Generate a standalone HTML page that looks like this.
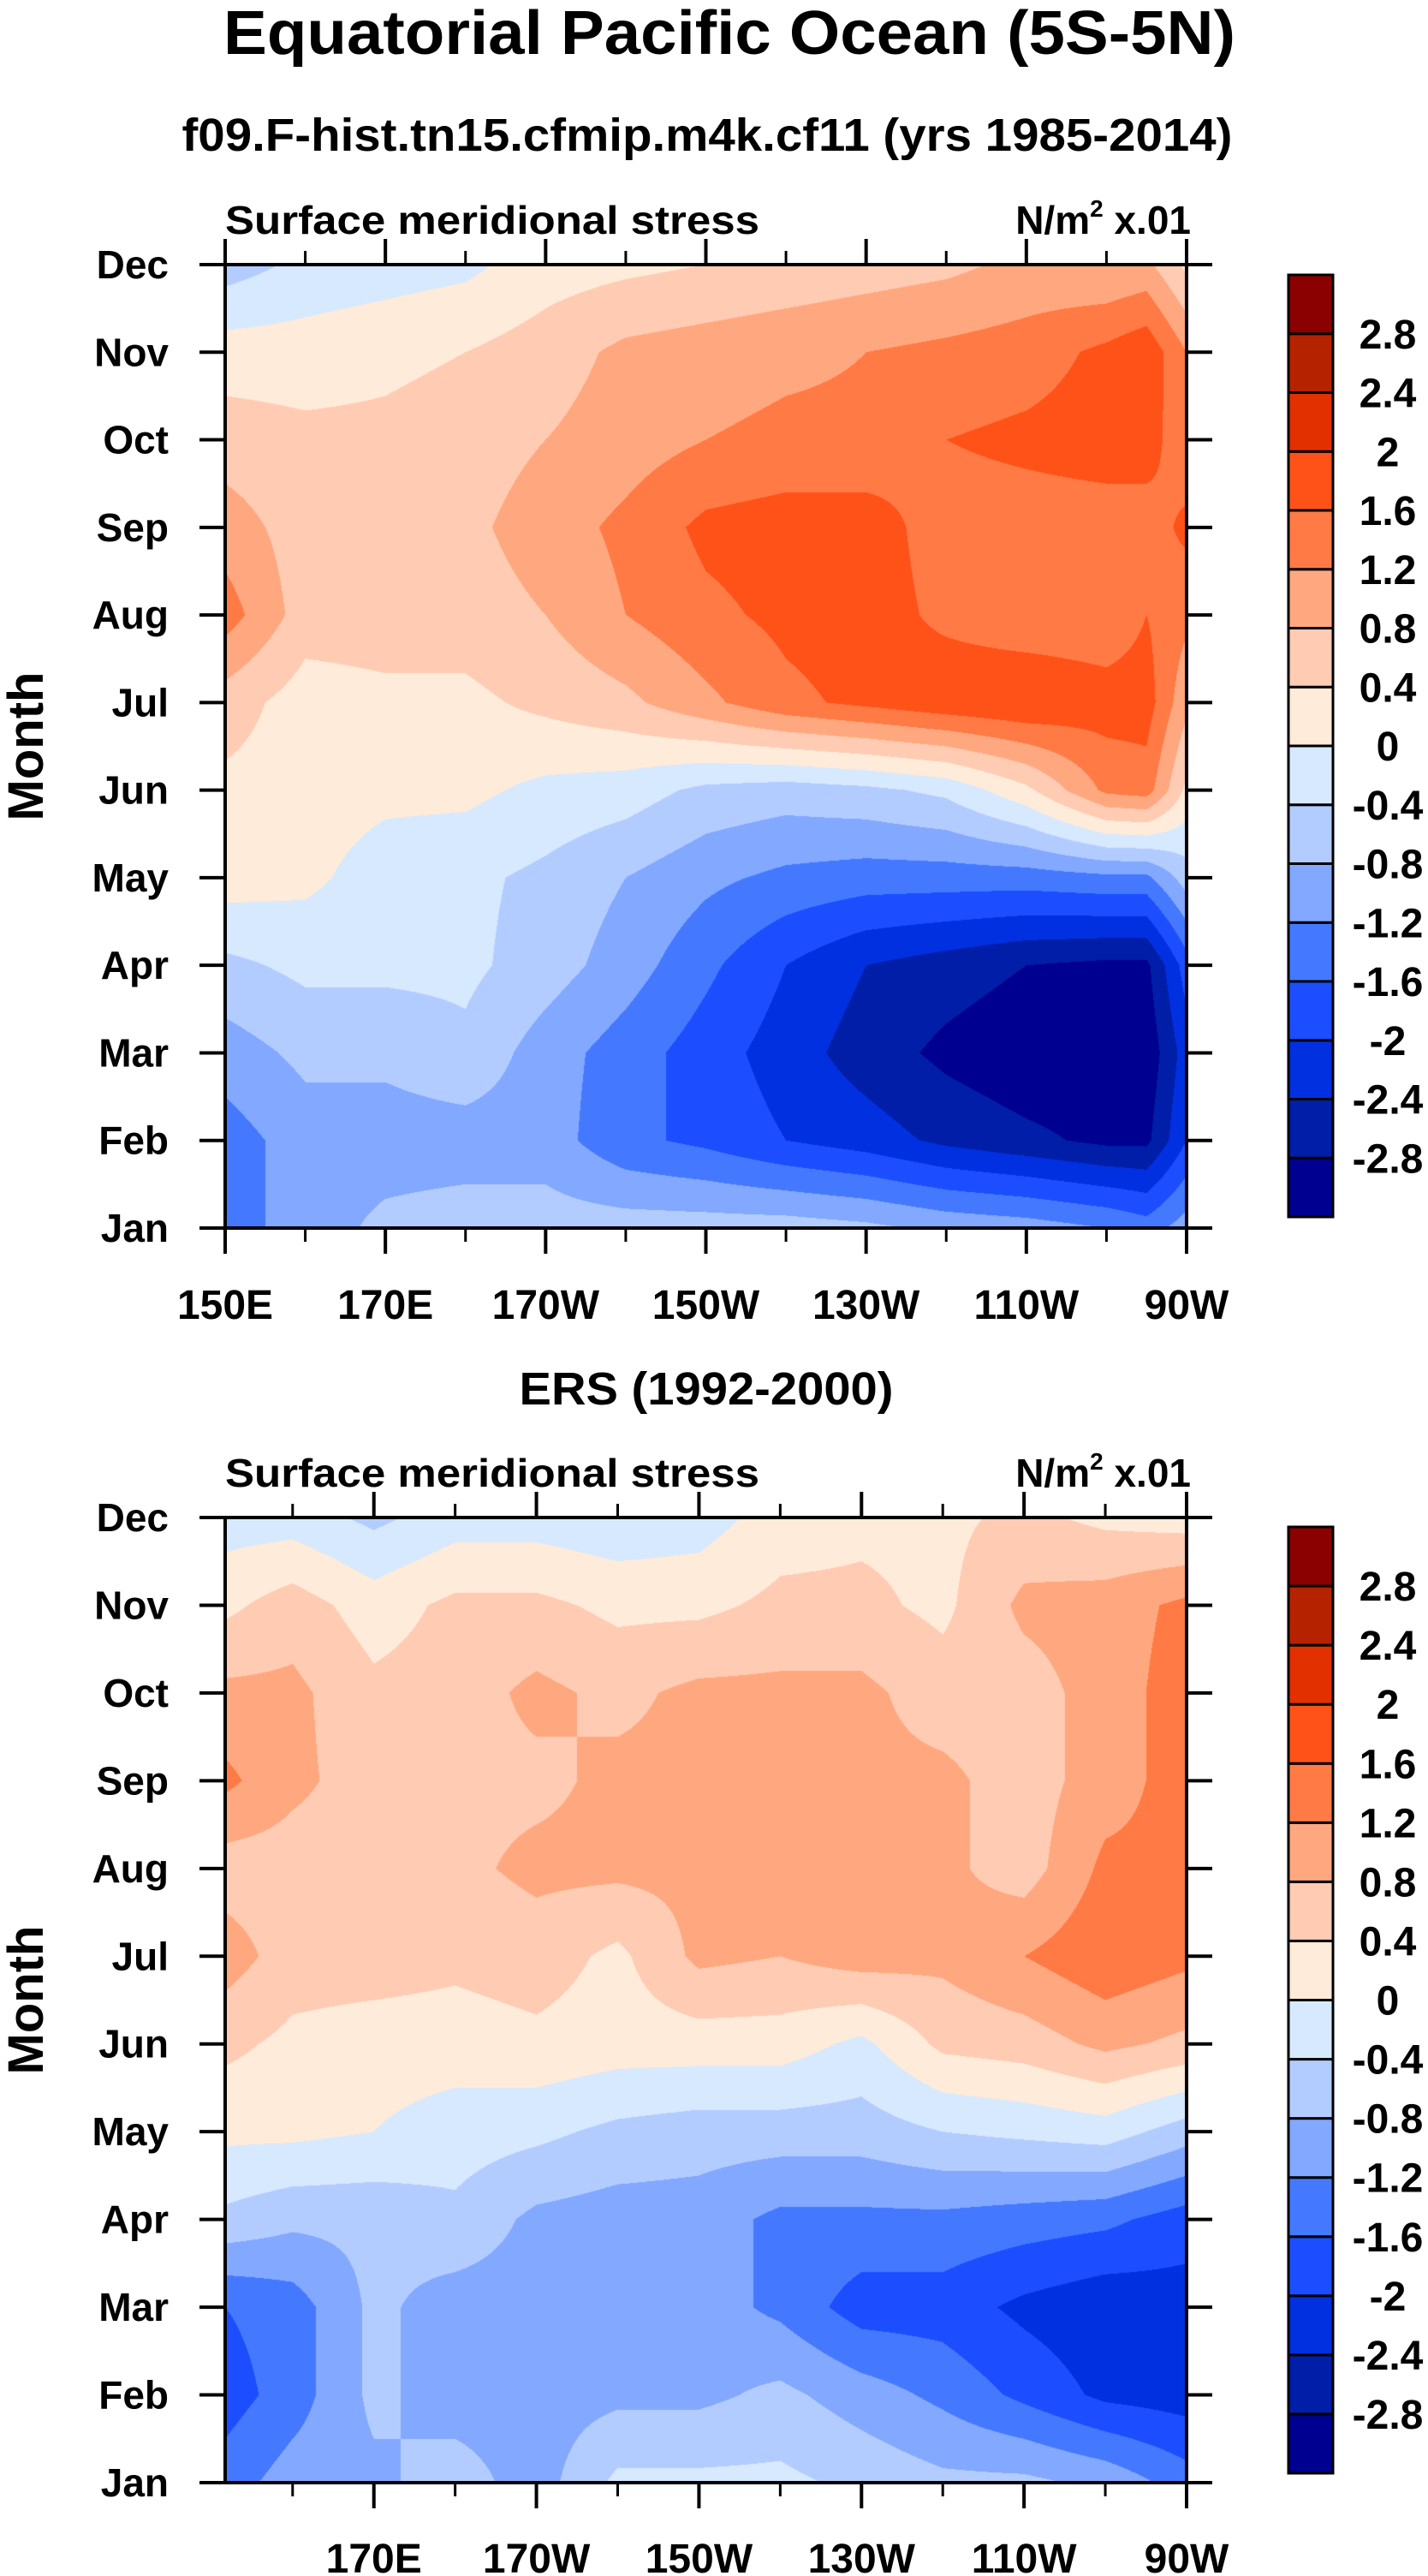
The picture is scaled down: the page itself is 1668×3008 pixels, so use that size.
<!DOCTYPE html>
<html><head><meta charset="utf-8">
<style>
html,body{margin:0;padding:0;background:#fff;}
body{width:1668px;height:3008px;position:relative;overflow:hidden;font-family:"Liberation Sans",Arial,sans-serif;}
canvas{position:absolute;}
svg{position:absolute;left:0;top:0;}
text{font-family:"Liberation Sans",Arial,sans-serif;font-weight:bold;fill:#000;}
</style></head>
<body>
<canvas id="c1" width="1123" height="1125" style="left:263px;top:309px;"></canvas>
<canvas id="c2" width="1123" height="1127" style="left:263px;top:1772px;"></canvas>
<svg id="svg" width="1668" height="3008" viewBox="0 0 1668 3008">
<text x="852" y="63" text-anchor="middle" font-size="72" textLength="1182" lengthAdjust="spacingAndGlyphs">Equatorial Pacific Ocean (5S-5N)</text>
<text x="826" y="176" text-anchor="middle" font-size="54" textLength="1227" lengthAdjust="spacingAndGlyphs">f09.F-hist.tn15.cfmip.m4k.cf11 (yrs 1985-2014)</text>
<text x="825" y="1640" text-anchor="middle" font-size="54" textLength="437" lengthAdjust="spacingAndGlyphs">ERS (1992-2000)</text>
</svg>
<script>
// ---- data ----
var levels = [-2.8,-2.4,-2,-1.6,-1.2,-0.8,-0.4,0,0.4,0.8,1.2,1.6,2,2.4,2.8];
var levelLabels = ["-2.8","-2.4","-2","-1.6","-1.2","-0.8","-0.4","0","0.4","0.8","1.2","1.6","2","2.4","2.8"];
var colors = ["#000090","#001ea8","#0030e0","#1c4eff","#4479ff","#82a8ff","#b3ccff","#d6e9ff","#ffebd9","#ffcbb3","#ffa880","#ff7a45","#ff5218","#e33000","#b52200","#8b0000"];
var months = ["Jan","Feb","Mar","Apr","May","Jun","Jul","Aug","Sep","Oct","Nov","Dec"];
var lonTicks1 = [150,170,190,210,230,250,270];
var lonTicks2 = [170,190,210,230,250,270];
var lonTickLabels1 = ["150E","170E","170W","150W","130W","110W","90W"];
var lonTickLabels2 = ["170E","170W","150W","130W","110W","90W"];
// model grid (rows Jan..Dec)
var modelLons = [150,160,170,180,190,200,210,220,230,240,250,260,265,270];
var modelJan = [-1.4,-1.0,-0.7,-0.6,-0.6,-0.6,-0.6,-0.6,-0.7,-0.9,-1.0,-1.2,-1.4,-1.0];
var modelFeb = [-1.4,-1.0,-1.0,-1.0,-1.0,-1.5,-1.7,-2.0,-2.2,-2.5,-2.7,-2.9,-2.9,-2.0];
var modelMar = [-1.0,-0.7,-0.7,-0.5,-1.0,-1.4,-1.8,-2.2,-2.6,-2.9,-3.1,-3.1,-3.1,-2.2];
var modelApr = [-0.5,-0.3,-0.3,-0.3,-0.6,-1.0,-1.5,-2.0,-2.4,-2.6,-2.8,-2.9,-2.9,-1.8];
var modelMay = [0.2,0.1,-0.2,-0.3,-0.5,-0.8,-1.1,-1.3,-1.4,-1.4,-1.4,-1.3,-1.3,-0.6];
var modelJun = [0.3,0.2,0.1,0.1,-0.1,-0.2,-0.5,-0.6,-0.5,-0.3,0.3,1.3,1.4,0.3];
var modelJul = [0.6,0.2,0.3,0.3,0.5,0.7,1.1,1.5,1.7,1.9,2.0,1.8,1.8,0.9];
var modelAug = [1.4,0.6,0.6,0.6,0.8,1.2,1.5,1.7,1.8,1.5,1.3,1.3,1.6,1.3];
var modelSep = [1.0,0.6,0.6,0.7,1.0,1.3,1.7,1.8,1.8,1.4,1.4,1.4,1.4,1.7];
var modelOct = [0.6,0.5,0.5,0.6,0.8,1.0,1.2,1.3,1.3,1.6,1.7,1.8,1.8,1.3];
var modelNov = [0.2,0.2,0.3,0.4,0.6,0.9,1.0,1.1,1.2,1.3,1.4,1.7,1.9,1.2];
var modelDec = [-0.6,-0.3,-0.2,-0.1,0.2,0.3,0.4,0.5,0.6,0.7,0.9,0.8,0.9,0.3];
// ERS grid
var ersLons = [151.7,160,170,180,190,200,210,220,230,240,250,260,270];
var ersJan = [-1.4,-1.0,-0.9,-0.6,-1.0,-0.3,-0.3,-0.3,-0.5,-0.7,-0.7,-0.9,-1.4];
var ersFeb = [-1.8,-1.4,-0.7,-1.0,-1.0,-0.9,-0.9,-0.7,-1.0,-1.3,-1.7,-2.1,-2.2];
var ersMar = [-1.6,-1.4,-0.7,-1.0,-1.0,-1.0,-1.0,-1.3,-1.8,-1.8,-2.1,-2.3,-2.2];
var ersApr = [-0.5,-0.7,-0.7,-0.5,-0.9,-1.0,-1.0,-1.3,-1.3,-1.3,-1.4,-1.5,-1.8];
var ersMay = [0.1,0.1,0.0,-0.2,-0.3,-0.5,-0.6,-0.6,-0.6,-0.4,-0.3,-0.2,-0.6];
var ersJun = [0.5,0.3,0.2,0.2,0.3,0.2,0.2,0.2,-0.1,0.5,0.6,0.9,0.7];
var ersJul = [1.0,0.6,0.6,0.5,0.6,0.3,0.9,0.8,1.0,0.9,1.2,1.5,1.3];
var ersAug = [0.6,0.6,0.6,0.7,0.9,0.9,0.9,0.9,0.9,0.9,0.6,1.3,1.3];
var ersSep = [1.3,0.9,0.6,0.7,0.7,0.9,0.9,0.9,0.9,0.9,0.6,1.0,1.4];
var ersOct = [0.9,0.9,0.5,0.6,0.9,0.7,0.9,0.9,0.9,0.6,0.6,1.0,1.4];
var ersNov = [0.3,0.6,0.2,0.5,0.5,0.3,0.3,0.5,0.5,0.3,0.9,1.0,1.3];
var ersDec = [-0.2,-0.2,-0.5,-0.2,-0.2,-0.3,-0.2,0.2,0.3,0.3,0.5,0.3,0.2];

var modelGrid = [modelJan,modelFeb,modelMar,modelApr,modelMay,modelJun,modelJul,modelAug,modelSep,modelOct,modelNov,modelDec];
var ersGrid = [ersJan,ersFeb,ersMar,ersApr,ersMay,ersJun,ersJul,ersAug,ersSep,ersOct,ersNov,ersDec];

var NS = "http://www.w3.org/2000/svg";
var svg = document.getElementById('svg');
function mk(tag, attrs, parent){
  var e = document.createElementNS(NS, tag);
  for (var k in attrs) e.setAttribute(k, attrs[k]);
  (parent||svg).appendChild(e);
  return e;
}
function hexToRgb(h){return [parseInt(h.substr(1,2),16),parseInt(h.substr(3,2),16),parseInt(h.substr(5,2),16)];}
var rgbs = colors.map(hexToRgb);

function panel(cfg){
  var L=cfg.left,R=cfg.right,T=cfg.top,B=cfg.bottom;
  var xs=function(lon){return L+(lon-cfg.lon0)/(cfg.lon1-cfg.lon0)*(R-L);};
  var ys=function(m){return B-m/11*(B-T);};
  var cv=document.getElementById(cfg.canvas), ctx=cv.getContext('2d');
  var W=cv.width,H=cv.height,img=ctx.createImageData(W,H),d=img.data;
  var lons=cfg.lons, grid=cfg.grid;
  var colIdx=[],colF=[];
  for(var px=0;px<W;px++){
    var lon=cfg.lon0+(px+0.5)/W*(cfg.lon1-cfg.lon0);
    var j=0; while(j<lons.length-2 && lon>lons[j+1]) j++;
    var f=(lon-lons[j])/(lons[j+1]-lons[j]); f=Math.max(0,Math.min(1,f));
    colIdx.push(j); colF.push(f);
  }
  for(var py=0;py<H;py++){
    var m=11-(py+0.5)/H*11; var i=Math.min(10,Math.floor(m)); var g=m-i;
    var r0=grid[i], r1=grid[i+1];
    for(var px=0;px<W;px++){
      var j=colIdx[px],f=colF[px];
      var v0=r0[j]*(1-f)+r0[j+1]*f, v1=r1[j]*(1-f)+r1[j+1]*f;
      var v=v0*(1-g)+v1*g;
      var k=0; while(k<levels.length && v>=levels[k]) k++;
      var c=rgbs[k], o=(py*W+px)*4;
      d[o]=c[0];d[o+1]=c[1];d[o+2]=c[2];d[o+3]=255;
    }
  }
  ctx.putImageData(img,0,0);
  var gAx=mk('g',{});
  var frame=mk('rect',{x:L,y:T,width:R-L,height:B-T,fill:'none',stroke:'#000','stroke-width':4},gAx);
  
  
  for(var mi=0;mi<12;mi++){
    var y=ys(mi);
    mk('line',{x1:L-30,y1:y,x2:L,y2:y,stroke:'#000','stroke-width':4},gAx);
    mk('line',{x1:R,y1:y,x2:R+30,y2:y,stroke:'#000','stroke-width':4},gAx);
    var t=mk('text',{x:197,y:y+16,'text-anchor':'end','font-size':46},gAx);
    t.textContent=months[mi];
    
    
  }
  for(var lon=cfg.tickStart;lon<=270;lon+=10){
    var x=xs(lon), major=(lon%20===10);
    var len=major?30:16;
    mk('line',{x1:x,y1:T-len,x2:x,y2:T,stroke:'#000','stroke-width':major?4:3},gAx);
    mk('line',{x1:x,y1:B,x2:x,y2:B+len,stroke:'#000','stroke-width':major?4:3},gAx);
  }
  for(var ti=0;ti<cfg.ticks.length;ti++){
    var t2=mk('text',{x:xs(cfg.ticks[ti]),y:cfg.xlabY,'text-anchor':'middle','font-size':48},gAx);
    t2.textContent=cfg.tickLabels[ti];
    
    
  }
  var yt=mk('text',{x:0,y:0,'text-anchor':'middle','font-size':58,transform:'translate(50,'+((T+B)/2)+') rotate(-90)'},gAx);
  yt.textContent='Month';
  
  
  var h1=mk('text',{x:L,y:T-36,'font-size':46,textLength:624,lengthAdjust:'spacingAndGlyphs'},gAx);
  h1.textContent='Surface meridional stress';
  
  
  var h2=mk('text',{x:R+5,y:T-36,'text-anchor':'end','font-size':46},gAx);
  h2.innerHTML='N/m<tspan font-size="28" dy="-20">2</tspan><tspan dy="20"> x.01</tspan>';
  
  
  var gCb=mk('g',{});
  var bh=(cfg.cbBottom-cfg.cbTop)/colors.length;
  for(var ci=0;ci<colors.length;ci++){
    var ry=cfg.cbBottom-(ci+1)*bh;
    var r=mk('rect',{x:1505,y:ry,width:52,height:bh,fill:colors[ci],stroke:'#000','stroke-width':3},gCb);
    
    
  }
  for(var li=0;li<levels.length;li++){
    var ly=cfg.cbBottom-(li+1)*bh;
    var lt=mk('text',{x:1621,y:ly+17,'text-anchor':'middle','font-size':48},gCb);
    lt.textContent=levelLabels[li];
    
    
  }
}
panel({name:'model',canvas:'c1',left:263,right:1386,top:309,bottom:1434,lon0:150,lon1:270,lons:modelLons,grid:modelGrid,
  ticks:lonTicks1,tickLabels:lonTickLabels1,tickStart:150,xlabY:1540,cbTop:321,cbBottom:1421});
panel({name:'ers',canvas:'c2',left:263,right:1386,top:1772,bottom:2899,lon0:151.7,lon1:270,lons:ersLons,grid:ersGrid,
  ticks:lonTicks2,tickLabels:lonTickLabels2,tickStart:160,xlabY:3004,cbTop:1783,cbBottom:2888});
</script>
</body></html>
